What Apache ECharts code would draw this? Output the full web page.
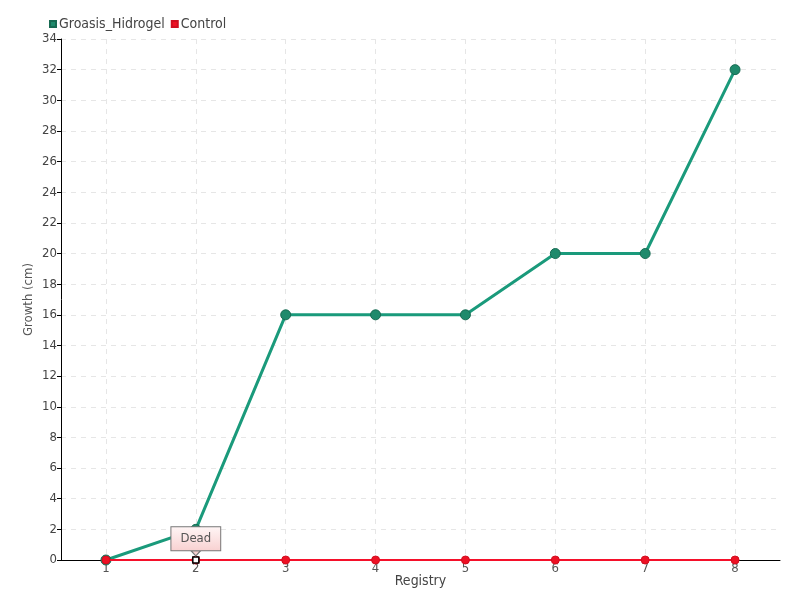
<!DOCTYPE html>
<html><head><meta charset="utf-8">
<script src="https://cdn.jsdelivr.net/npm/echarts@6/dist/echarts.min.js"></script>
<style>html,body{margin:0;padding:0;background:#fff}#c{width:800px;height:600px}</style>
</head><body><div id="c"></div>
<script>
const categories = ['1','2','3','4','5','6','7','8'];
const groasisValues = [0, 2, 16, 16, 16, 20, 20, 32];
const controlValues = [0, 0, 0, 0, 0, 0, 0, 0];
const seriesNames = ['Groasis_Hidrogel', 'Control'];
const deadLabel = 'Dead';
const deadIndex = 1;

const FONT = "'DejaVu Sans Condensed', 'DejaVu Sans', sans-serif";
const chart = echarts.init(document.getElementById('c'), null, {renderer: 'canvas'});
chart.setOption({
  animation: false,
  textStyle: {fontFamily: FONT},
  legend: {
    left: 44, top: 12, itemWidth: 6, itemHeight: 6, itemGap: 6,
    icon: 'rect',
    textStyle: {fontFamily: FONT, fontSize: 14, color: '#444', padding: [0,0,0,-2]},
    data: seriesNames
  },
  grid: {left: 61, right: 20, top: 39, bottom: 40},
  xAxis: {
    type: 'category', data: categories, boundaryGap: true,
    name: 'Registry', nameLocation: 'middle', nameGap: 14, nameMoveOverlap: false,
    nameTextStyle: {fontFamily: FONT, fontSize: 14, color: '#444'},
    axisLine: {lineStyle: {color: '#000', width: 1}},
    axisTick: {show: false, alignWithLabel: true},
    axisLabel: {fontFamily: FONT, fontSize: 13, color: '#555', margin: 2},
    splitLine: {show: true, alignWithLabel: true, lineStyle: {color: '#e6e6e6', type: [5, 5]}}
  },
  yAxis: {
    type: 'value', min: 0, max: 34, interval: 2,
    name: 'Growth (cm)', nameLocation: 'middle', nameGap: 26, nameMoveOverlap: false,
    nameTextStyle: {fontFamily: FONT, fontSize: 13, color: '#555'},
    axisLine: {show: true, lineStyle: {color: '#000', width: 1}},
    axisTick: {show: true, length: 4, lineStyle: {color: '#000'}},
    axisLabel: {fontFamily: FONT, fontSize: 13, color: '#444', margin: 4},
    splitLine: {show: true, lineStyle: {color: '#e6e6e6', type: [5, 5]}}
  },
  series: [
    {
      name: seriesNames[0], type: 'line', data: groasisValues,
      color: '#1a9a7b', clip: false,
      lineStyle: {width: 3, color: '#1a9a7b'},
      symbol: 'circle', symbolSize: 10,
      itemStyle: {color: '#1f8a6c', borderColor: '#176a52', borderWidth: 1},
      z: 3
    },
    {
      name: seriesNames[1], type: 'line', data: controlValues,
      color: '#ee1124', clip: false,
      lineStyle: {width: 2, color: '#f5102a'},
      symbol: 'circle', symbolSize: 8,
      itemStyle: {color: '#ee1124', borderColor: '#d00d1f', borderWidth: 1},
      z: 4,
      markPoint: {
        data: [
          {
            coord: [deadIndex, controlValues[deadIndex]], value: deadLabel,
            symbol: 'rect', symbolSize: 6,
            itemStyle: {color: '#fff', borderColor: '#000', borderWidth: 1.5},
            label: {
              show: true, position: 'top', distance: 6,
              formatter: function(){ return deadLabel; },
              fontFamily: FONT, fontSize: 13, color: '#555',
              backgroundColor: {type: 'linear', x: 0, y: 0, x2: 0, y2: 1,
                colorStops: [{offset: 0, color: '#fff6f6'}, {offset: 1, color: '#f8d0d0'}]},
              borderColor: '#777', borderWidth: 1,
              padding: [5, 9, 5, 9]
            }
          },
          {
            coord: [deadIndex, controlValues[deadIndex]], value: '',
            symbol: 'path://M0,0 L10,0 L5,6 Z', symbolSize: [9, 5], symbolOffset: [0, -6.5],
            itemStyle: {color: '#f8d0d0', borderColor: '#777', borderWidth: 1},
            label: {show: false}
          }
        ]
      }
    }
  ]
});
</script></body></html>
